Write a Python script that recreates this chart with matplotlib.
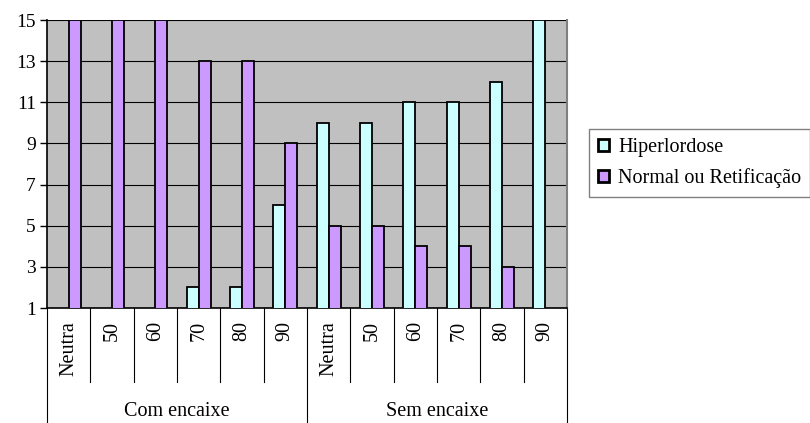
import matplotlib.pyplot as plt
import matplotlib.transforms as mtransforms
import numpy as np

# Dados
grupos = ["Com encaixe", "Sem encaixe"]
posicoes = ["Neutra", "50", "60", "70", "80", "90"]
hiperlordose = [0, 0, 0, 2, 2, 6, 10, 10, 11, 11, 12, 15]
normal_retif = [15, 15, 15, 13, 13, 9, 5, 5, 4, 4, 3, 0]
yticks = [1, 3, 5, 7, 9, 11, 13, 15]

plt.rcParams['font.family'] = ['Liberation Serif', 'DejaVu Serif']

fig = plt.figure(figsize=(8.1, 4.23), dpi=100)
ax = fig.add_axes([47 / 810, 1 - 308 / 423, 520 / 810, 288 / 423])
ax.set_facecolor('#C0C0C0')

x = np.arange(len(hiperlordose))
larg = 0.28
ax.bar(x - larg / 2, hiperlordose, width=larg, color='#CCFFFF', edgecolor='black',
       linewidth=1.3, label='Hiperlordose', zorder=3)
ax.bar(x + larg / 2, normal_retif, width=larg, color='#CC99FF', edgecolor='black',
       linewidth=1.3, label='Normal ou Retificação', zorder=3)

ax.set_xlim(-0.5, len(x) - 0.5)
ax.set_ylim(1, 15)
ax.set_yticks(yticks)
ax.tick_params(axis='y', labelsize=14, length=5, width=1, direction='out', pad=3)
ax.set_xticks([])
ax.grid(True, axis='y', color='black', linewidth=0.8, zorder=1)

ax.spines['right'].set_color('#808080')
ax.spines['right'].set_linewidth(1.5)
ax.spines['top'].set_visible(False)
ax.spines['left'].set_linewidth(1.2)
ax.spines['bottom'].set_linewidth(1.2)

# eixo de categorias em dois níveis
trans = mtransforms.blended_transform_factory(ax.transData, ax.transAxes)
n = len(posicoes)
for i in range(len(x) + 1):
    pos = i - 0.5
    fim = -0.41 if i % n == 0 else -0.257
    ax.plot([pos, pos], [0, fim], color='black', linewidth=0.8,
            transform=trans, clip_on=False)
for i, v in enumerate(x):
    ax.text(v, -0.045, posicoes[i % n], rotation=90, ha='center', va='top',
            fontsize=14.5, transform=trans)
for g, nome in enumerate(grupos):
    ax.text(g * n + (n - 1) / 2, -0.36, nome, ha='center', va='center',
            fontsize=14.5, transform=trans)

leg = fig.legend(loc='upper left', bbox_to_anchor=(589 / 810, 1 - 129 / 423),
                 fontsize=14.5, frameon=True, fancybox=False, handlelength=0.55,
                 handleheight=0.55, handletextpad=0.45, borderpad=0.45,
                 labelspacing=0.55, borderaxespad=0)
leg.get_frame().set_edgecolor('#606060')
leg.get_frame().set_linewidth(1)
for h in leg.legend_handles:
    h.set_linewidth(2)

fig.savefig('out.png', dpi=100)
